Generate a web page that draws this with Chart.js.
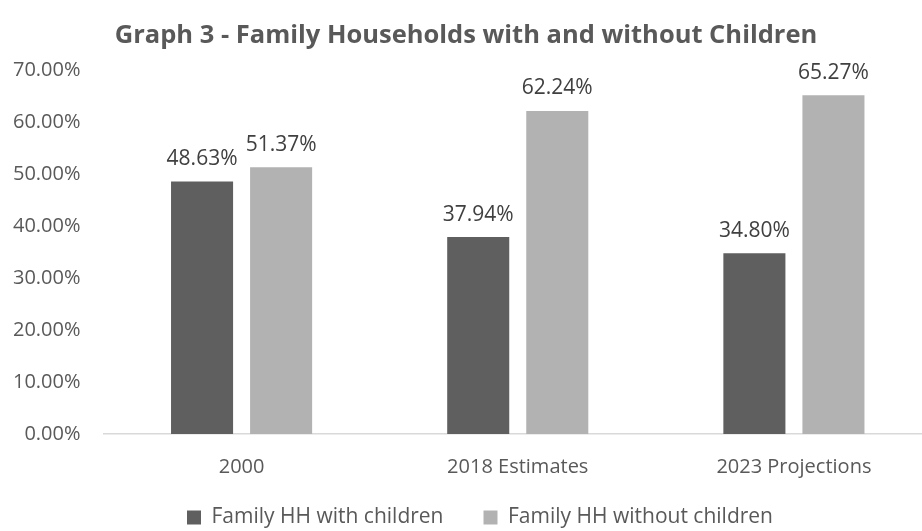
<!DOCTYPE html>
<html>
<head>
	<meta charset="UTF-8">
	<title>Graph 3</title>
	<script src="https://cdn.jsdelivr.net/npm/chart.js@4"></script>
	<style>
		body { margin: 0; overflow: hidden; background: #fff; }
		#wrap { width: 932px; height: 531px; }
	</style>
</head>
<body>
	<div id="wrap"><canvas id="chart"></canvas></div>
	<script>
	const categories = ["2000", "2018 Estimates", "2023 Projections"];
	const withChildren = [48.63, 37.94, 34.80];
	const withoutChildren = [51.37, 62.24, 65.27];
	const seriesNames = ["Family HH with children", "Family HH without children"];

	// percent labels above each bar
	const barLabels = {
		id: 'barLabels',
		afterDatasetsDraw(chart) {
			const ctx = chart.ctx;
			ctx.save();
			ctx.font = '21px "Open Sans"';
			ctx.fillStyle = '#404040';
			ctx.textAlign = 'center';
			ctx.textBaseline = 'bottom';
			chart.data.datasets.forEach((ds, i) => {
				chart.getDatasetMeta(i).data.forEach((bar, j) => {
					ctx.fillText(ds.data[j].toFixed(2) + '%', bar.x, bar.y - 12);
				});
			});
			ctx.restore();
		}
	};

	// legend needs wide gaps between items but not the matching vertical room,
	// so move it into place once the layout is done (legend clips to its box)
	const legendShift = {
		id: 'legendShift',
		afterLayout(chart) {
			const lg = chart.legend;
			lg.top = 467;
			lg.bottom = chart.height;
			lg.height = lg.bottom - lg.top;
			lg.left += 14;
			lg.right += 14;
		}
	};

	new Chart(document.getElementById('chart'), {
		type: 'bar',
		data: {
			labels: categories,
			datasets: [{
				label: seriesNames[0],
				data: withChildren,
				backgroundColor: '#5f5f5f',
				categoryPercentage: 0.5725,
				barPercentage: 0.785
			}, {
				label: seriesNames[1],
				data: withoutChildren,
				backgroundColor: '#b2b2b2',
				categoryPercentage: 0.5725,
				barPercentage: 0.785
			}]
		},
		options: {
			responsive: true,
			maintainAspectRatio: false,
			animation: false,
			layout: { padding: 0 },
			plugins: {
				title: {
					display: true,
					text: 'Graph 3 - Family Households with and without Children',
					color: '#595959',
					font: { family: '"Open Sans"', size: 25.5, weight: 'bold' },
					padding: { top: 20, bottom: 20 }
				},
				legend: {
					position: 'bottom',
					maxHeight: 40,
					labels: {
						color: '#595959',
						font: { family: '"Open Sans"', size: 21 },
						boxWidth: 14,
						boxHeight: 14,
						padding: 40
					}
				},
				tooltip: { enabled: false }
			},
			scales: {
				x: {
					grid: { display: false, drawTicks: false },
					border: { display: true, color: '#d9d9d9', width: 1.5 },
					ticks: {
						color: '#595959',
						font: { family: '"Open Sans"', size: 20 },
						padding: 21,
						maxRotation: 0
					},
					afterFit(scale) { scale.height = 57; }
				},
				y: {
					min: 0,
					max: 70,
					grid: { display: false, drawTicks: false },
					border: { display: false },
					ticks: {
						stepSize: 10,
						color: '#595959',
						font: { family: '"Open Sans"', size: 20 },
						padding: 23,
						callback: v => v.toFixed(2) + '%'
					},
					afterFit(scale) { scale.width = 103.5; }
				}
			}
		},
		plugins: [barLabels, legendShift]
	});
	</script>
</body>
</html>
